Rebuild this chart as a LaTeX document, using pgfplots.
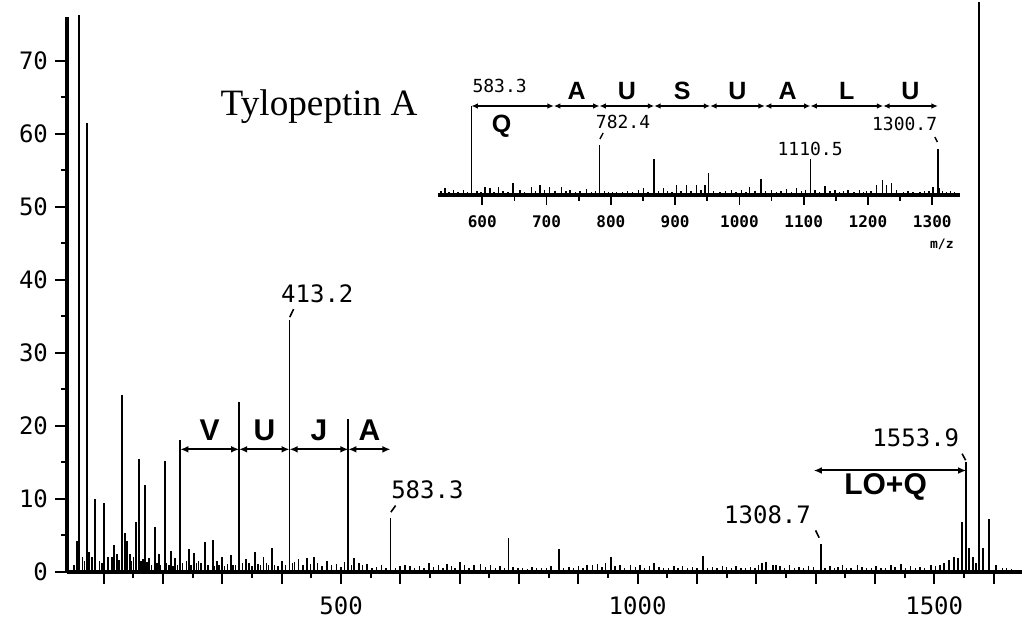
\documentclass[border=0pt]{standalone}
\usepackage{fontspec}
\usepackage{pgfplots}
\pgfplotsset{compat=1.18}
\usetikzlibrary{arrows.meta}
\setmainfont{Liberation Serif}
\newfontfamily\mono{DejaVu Sans Mono}
\newfontfamily\hel{Liberation Sans}

\tikzset{
  seg/.style={{Latex[length=4pt,width=3.4pt]}-{Latex[length=4pt,width=3.4pt]}, line width=1pt},
  segs/.style={{Latex[length=3.2pt,width=2.8pt]}-{Latex[length=3.2pt,width=2.8pt]}, line width=0.9pt},
  lab/.style={font=\mono\fontsize{12}{12}\selectfont, inner sep=0pt},
  slab/.style={font=\mono\fontsize{9}{9}\selectfont, inner sep=0pt},
  big/.style={font=\hel\bfseries\fontsize{15}{15}\selectfont, inner sep=0pt},
  mid/.style={font=\hel\bfseries\fontsize{12.5}{12.5}\selectfont, inner sep=0pt},
}

\begin{document}
\begin{tikzpicture}
\useasboundingbox (-33.5pt,-28.5pt) rectangle (478.5pt,286pt);

% ---------------- main spectrum ----------------
\begin{axis}[
  at={(0pt,0pt)}, anchor=south west,
  scale only axis, width=477.5pt, height=277.5pt,
  xmin=38, xmax=1648, ymin=0, ymax=76,
  axis x line=bottom, axis y line=left,
  axis line style={-, line width=1.7pt},
  tick align=outside, tick style={line width=1pt, black},
  major tick length=6pt, minor tick length=3pt,
  xtick={100,200,...,1600},
  xticklabels={,,,,500,,,,,1000,,,,,1500,},
  minor x tick num=1,
  ytick={0,10,...,70}, minor y tick num=1,
  ticklabel style={font=\mono\fontsize{12}{12}\selectfont},
  xticklabel style={yshift=-3pt},
  /pgf/number format/assume math mode=true,
  clip=false,
]
% labelled and strong peaks
\addplot[ycomb, line width=0.9pt, mark=none] coordinates {
  (55.4,4.2) (58.7,76.3) (71.2,61.5) (75.7,2.8) (85.8,10.0) (101,9.4)
  (107.7,2.0) (113.4,2.1) (117.3,3.7) (122.9,2.4) (130.3,24.3) (135.9,5.3)
  (139.8,4.2) (144.3,2.4) (154.4,6.8) (159,15.5) (170.1,11.9) (176.9,1.9)
  (186.5,6.1) (193.2,2.4) (202.8,15.2) (212.9,2.9) (220.3,1.9) (229.1,18.1)
  (243.9,3.1) (252.3,2.6) (259.6,1.5) (270.9,4.1) (283.8,4.4) (290.6,1.5)
  (299,2.0) (314.2,2.3) (328.2,23.3) (340,1.8) (355.3,2.7) (369.3,2.1)
  (383.4,3.3) (400.3,1.5) (413.2,34.5) (428.4,1.8) (442.5,1.9) (454.9,2.1)
  (512.3,21.0) (521.2,1.9) (529.6,1.2) (552.2,0.6) (583.3,7.4) (600,0.8)
  (616.9,0.8) (647.8,1.3) (678.8,1.1) (700,1.4) (735,1.1) (782.4,4.6)
  (867.5,3.2) (915,1.0) (954.5,2.0) (988,0.9) (1027.5,1.2) (1061,0.8)
  (1110.5,2.2) (1143,0.8) (1210,1.2) (1216,1.4) (1228,0.9) (1233,1.0)
  (1308.7,3.9) (1345.5,1.0) (1370.8,0.9) (1427,0.9) (1444,1.1) (1494.5,0.9)
  (1517,1.2) (1525.4,1.7) (1534,2.1) (1539.6,1.9) (1546.8,6.9) (1553.9,15.0)
  (1559.2,3.3) (1564.9,2.0) (1570,1.2) (1576,78) (1581.8,3.3) (1592.9,7.3)
  (1604,1.0) (1615,0.5)
};
% baseline grass
\addplot[ycomb, line width=0.7pt, mark=none] coordinates {
  (50,1.0) (64,2.0) (68,1.5) (80,2.0) (93,1.5) (97,1.2) (126,1.6) (147,1.5)
  (150,2.0) (163,1.5) (166,1.8) (173,1.4) (180,1.0) (190,1.3) (196,0.9)
  (206,1.2) (210,1.0) (217,0.8) (224,1.0) (233,1.3) (239,1.5) (247,1.0)
  (256,1.2) (264,1.3) (276,1.0) (287,0.8) (294,1.0) (304,0.8) (309,1.1)
  (318,1.0) (322,0.9) (334,1.2) (345,1.3) (350,0.8) (360,1.1) (364,1.0)
  (374,1.2) (378,0.9) (388,1.0) (394,0.8) (406,1.0) (418,1.2) (422,1.4)
  (436,1.0) (448,1.1) (460,1.2) (468,0.8) (476,1.5) (484,0.9) (492,1.1)
  (500,0.7) (506,1.4) (518,1.0) (536,0.9) (544,1.1) (560,0.7) (568,0.9)
  (576,0.5) (592,0.6) (608,0.9) (624,0.6) (632,0.8) (640,0.5) (656,0.7)
  (664,1.0) (672,0.6) (686,0.8) (692,0.5) (708,0.9) (716,0.6) (724,1.0)
  (744,0.7) (752,0.9) (760,0.5) (768,0.8) (776,0.6) (790,0.7) (798,0.5)
  (806,0.6) (814,0.4) (822,0.7) (830,0.5) (838,0.6) (846,0.5) (854,0.8)
  (875,0.6) (884,0.7) (892,0.5) (900,0.8) (908,0.6) (924,0.9) (932,1.1)
  (940,0.7) (946,1.2) (962,0.8) (970,1.0) (978,0.6) (996,0.7) (1004,0.9)
  (1012,0.5) (1020,0.8) (1036,0.7) (1044,0.6) (1052,0.5) (1068,0.6)
  (1076,0.8) (1084,0.5) (1092,0.7) (1100,0.6) (1118,0.5) (1126,0.7)
  (1134,0.6) (1150,0.7) (1158,0.5) (1166,0.8) (1174,0.6) (1182,0.5)
  (1190,0.7) (1198,0.6) (1204,0.9) (1240,0.8) (1248,0.6) (1256,0.9)
  (1264,0.5) (1272,0.7) (1280,0.6) (1288,0.8) (1296,0.7) (1316,0.6)
  (1324,0.8) (1332,0.5) (1338,0.7) (1352,0.6) (1360,0.5) (1378,0.7)
  (1386,0.5) (1394,0.6) (1402,0.8) (1410,0.5) (1418,0.6) (1434,0.7)
  (1452,0.6) (1460,0.8) (1468,0.5) (1476,0.7) (1484,0.6) (1502,0.8)
  (1510,0.9) (1622,0.5) (1630,0.4) (1640,0.3)
};

% title
\node[font=\fontsize{18.6}{18.6}\selectfont, inner sep=0pt] at (axis cs:463,63.7) {Tylopeptin A};

% sequence arrows V U J A
\draw[seg] (axis cs:229.1,16.8) -- (axis cs:328.2,16.8);
\draw[seg] (axis cs:328.2,16.8) -- (axis cs:413.2,16.8);
\draw[seg] (axis cs:413.2,16.8) -- (axis cs:512.3,16.8);
\draw[seg] (axis cs:512.3,16.8) -- (axis cs:583.3,16.8);
\node[big] at (axis cs:278.6,19.4) {V};
\node[big] at (axis cs:370.7,19.4) {U};
\node[big] at (axis cs:462.7,19.4) {J};
\node[big] at (axis cs:547.8,19.4) {A};

% LO+Q
\draw[seg] (axis cs:1297,13.9) -- (axis cs:1553.9,13.9);
\node[font=\hel\bfseries\fontsize{15}{15}\selectfont, inner sep=0pt] at (axis cs:1418,11.6) {LO+Q};

% peak labels
\node[lab] at (axis cs:460,38.1) {413.2};
\draw[line width=0.8pt] (axis cs:413.5,34.9) -- (axis cs:420,36.0);
\node[lab] at (axis cs:645.6,11.3) {583.3};
\draw[line width=0.8pt] (axis cs:584,8.2) -- (axis cs:592,9.1);
\node[lab] at (axis cs:1219,7.9) {1308.7};
\draw[line width=0.8pt] (axis cs:1300,5.7) -- (axis cs:1306,4.7);
\node[lab] at (axis cs:1469,18.4) {1553.9};
\draw[line width=0.8pt] (axis cs:1547,16.2) -- (axis cs:1553,15.3);
\end{axis}

% ---------------- inset ----------------
\begin{axis}[
  at={(185.45pt,188.5pt)}, anchor=south west,
  scale only axis, width=261pt, height=50pt,
  xmin=531, xmax=1343, ymin=0, ymax=100,
  axis x line=bottom, axis y line=none,
  axis line style={-, line width=1.6pt},
  tick align=outside, tick style={line width=0.9pt, black},
  major tick length=5pt, minor tick length=3pt,
  xtick={600,700,...,1300},
  xticklabels={600,700,800,900,1000,1100,1200,1300},
  minor x tick num=1,
  xticklabel style={font=\mono\bfseries\fontsize{8}{8}\selectfont, yshift=-2pt},
  clip=false,
]
\addplot[ycomb, line width=0.9pt, mark=none] coordinates {
  (583.3,89) (782.4,50) (867.5,36) (952,22) (1033,16) (1110.5,33)
  (1222.7,15) (1308.7,46)
};
\addplot[ycomb, line width=0.7pt, mark=none] coordinates {
  (536,4) (542,6.7) (548,3) (555,5) (562,3) (570.5,5) (577,3) (592,4)
  (598,3) (604,8) (612,6.7) (618,3) (625,8) (632,4) (640,3) (648,12)
  (658.6,5) (666,3) (676.8,8) (683,4) (689.7,10) (697,5) (705,7.7)
  (713,4) (723.5,7.7) (730,4) (736.4,5) (745,3) (752,4) (762.4,5.7)
  (770,3) (776,4) (790,4) (796,3) (803,3) (809,3.3) (818,3) (826,4)
  (834,3) (842.6,5) (850.4,6.7) (858,3) (874,4) (881.5,6.7) (888,4)
  (895,3) (902,10) (909,4) (918,10) (925,4) (933.4,10) (940,5) (946.4,10)
  (960,4) (969.7,3.3) (978,4) (987.9,5) (995,3) (1003,5) (1010,3)
  (1016,7.7) (1024,4) (1041,4) (1050,5) (1058,3) (1065,4) (1073,6)
  (1081,3) (1089,7) (1097,4) (1103,5) (1117.4,5) (1125,3) (1133,9)
  (1141,4) (1148.5,5) (1156,3) (1162,4) (1169,5) (1178,3) (1187,5)
  (1193,3) (1198,4) (1205,4) (1213.4,10) (1229,10) (1236.7,11.7)
  (1244.5,5) (1254.8,3) (1262,4) (1270,3) (1280.7,3) (1288,4) (1295,4)
  (1301.4,8.3) (1310.7,6.7) (1316,4) (1322,3) (1328,4) (1335,3) (1340,2)
};

% sequence arrows in inset
\draw[segs] (axis cs:583.3,89) -- (axis cs:711.4,89);
\draw[segs] (axis cs:711.4,89) -- (axis cs:782.4,89);
\draw[segs] (axis cs:782.4,89) -- (axis cs:867.5,89);
\draw[segs] (axis cs:867.5,89) -- (axis cs:954.5,89);
\draw[segs] (axis cs:954.5,89) -- (axis cs:1039.6,89);
\draw[segs] (axis cs:1039.6,89) -- (axis cs:1110.5,89);
\draw[segs] (axis cs:1110.5,89) -- (axis cs:1223.7,89);
\draw[segs] (axis cs:1223.7,89) -- (axis cs:1308.7,89);
\node[mid] at (axis cs:630,69) {Q};
\node[mid] at (axis cs:746.9,104) {A};
\node[mid] at (axis cs:825,104) {U};
\node[mid] at (axis cs:911,104) {S};
\node[mid] at (axis cs:997,104) {U};
\node[mid] at (axis cs:1075,104) {A};
\node[mid] at (axis cs:1167,104) {L};
\node[mid] at (axis cs:1266,104) {U};

% inset peak labels
\node[slab] at (axis cs:627,109) {583.3};
\node[slab] at (axis cs:819,73) {782.4};
\draw[line width=0.7pt] (axis cs:783,56) -- (axis cs:788,62);
\node[slab] at (axis cs:1110,46) {1110.5};
\draw[line width=0.7pt] (axis cs:1110.5,33.5) -- (axis cs:1110.5,36);
\node[slab] at (axis cs:1257,71) {1300.7};
\draw[line width=0.7pt] (axis cs:1304,58) -- (axis cs:1308,53);
\node[font=\mono\bfseries\fontsize{6.5}{6.5}\selectfont, inner sep=0pt] at (axis cs:1315,-49) {m/z};
\end{axis}
\end{tikzpicture}
\end{document}
